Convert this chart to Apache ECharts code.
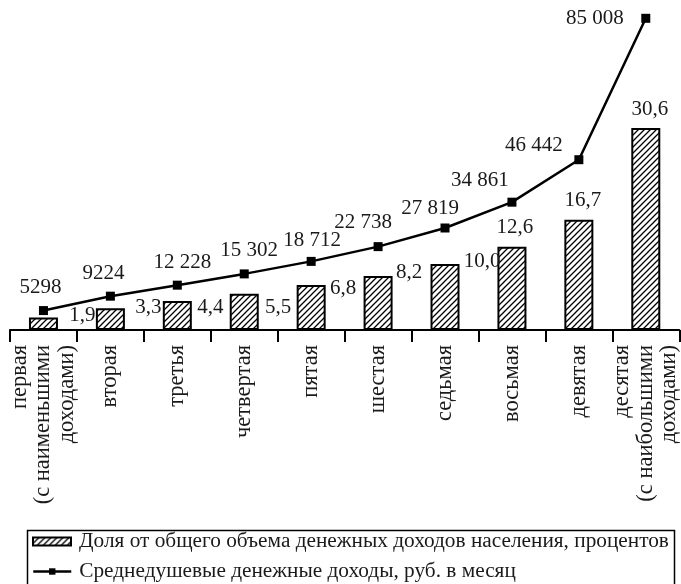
<!DOCTYPE html>
<html>
<head>
<meta charset="utf-8">
<script src="https://cdn.jsdelivr.net/npm/echarts@6/dist/echarts.min.js"></script>
<style>html,body{margin:0;padding:0;background:#fff;}#c{width:681px;height:584px;}</style>
</head>
<body>
<div id="c"></div>
<script>
const categories = ['первая\n(с наименьшими\nдоходами)', 'вторая', 'третья', 'четвертая', 'пятая', 'шестая', 'седьмая', 'восьмая', 'девятая', 'десятая\n(с наибольшими\nдоходами)'];
const shares = [1.9, 3.3, 4.4, 5.5, 6.8, 8.2, 10.0, 12.6, 16.7, 30.6];
const incomes = [5298, 9224, 12228, 15302, 18712, 22738, 27819, 34861, 46442, 85008];
const barName = 'Доля от общего объема денежных доходов населения, процентов';
const lineName = 'Среднедушевые денежные доходы, руб. в месяц';

// label placement tweaks (style only)
const barLabelOffsets = [[39,-2],[38,-1],[33,7],[34,14],[32,3],[31,-3],[37,-3],[3,-19],[4,-19],[4,-19]];
const lineLabelOffsets = [[-3,-23],[-7,-23],[5,-23],[5,-23],[1,-21],[-15,-24],[-15,-20],[-32,-22],[-45,-14],[-51,0]];

function makeHatch() {
  const s = 6, c = document.createElement('canvas');
  c.width = s; c.height = s;
  const g = c.getContext('2d');
  g.fillStyle = '#fff'; g.fillRect(0, 0, s, s);
  g.strokeStyle = '#000'; g.lineWidth = 1.3;
  g.beginPath();
  g.moveTo(0, s); g.lineTo(s, 0);
  g.moveTo(-1, 1); g.lineTo(1, -1);
  g.moveTo(s - 1, s + 1); g.lineTo(s + 1, s - 1);
  g.stroke();
  return c;
}
const hatch = { image: makeHatch(), repeat: 'repeat' };

function fmtShare(v) { return v.toFixed(1).replace('.', ','); }
function fmtIncome(v) {
  if (v < 10000) return String(v);
  return String(v).replace(/\B(?=(\d{3})+(?!\d))/g, ' ');
}

const FONT = 'Liberation Serif';
const TXT = '#1a1a1a';
const legendCommon = {
  orient: 'horizontal', left: 32, padding: 0,
  itemWidth: 38, itemHeight: 8,
  lineStyle: { color: '#000', width: 2.5 },
  textStyle: { fontFamily: FONT, fontSize: 21.3, color: TXT, padding: [0, 0, 0, 3] }
};

const chart = echarts.init(document.getElementById('c'), null, { renderer: 'canvas' });
chart.setOption({
  backgroundColor: '#fff',
  animation: false,
  textStyle: { fontFamily: FONT, color: TXT },
  grid: { left: 10, width: 670, top: 0, bottom: 254, containLabel: false },
  legend: [
    Object.assign({}, legendCommon, { top: 531, data: [{ name: barName, icon: 'rect' }] }),
    Object.assign({}, legendCommon, { top: 561, data: [{ name: lineName }] })
  ],
  graphic: [{
    type: 'rect', left: 25, top: 528, z: -1, silent: true,
    shape: { width: 647, height: 80 },
    style: { fill: 'none', stroke: '#000', lineWidth: 1.5 }
  }],
  xAxis: {
    type: 'category', data: categories, boundaryGap: true,
    axisLine: { lineStyle: { color: '#000', width: 2 } },
    axisTick: { show: true, interval: 0, length: 12, lineStyle: { color: '#000', width: 2 } },
    axisLabel: { interval: 0, rotate: 90, margin: 15, fontFamily: FONT, fontSize: 22.5, lineHeight: 23.5, color: TXT }
  },
  yAxis: [
    { type: 'value', min: 0, max: 50, show: false, splitLine: { show: false } },
    { type: 'value', min: 0, max: 90000, show: false, splitLine: { show: false } }
  ],
  series: [
    {
      name: barName, type: 'bar', yAxisIndex: 0, barWidth: 29,
      itemStyle: { color: hatch, borderColor: '#000', borderWidth: 2 },
      data: shares.map((v, i) => ({
        value: v,
        label: {
          show: true, position: ['50%', 0], align: 'center', verticalAlign: 'middle',
          offset: barLabelOffsets[i], formatter: () => fmtShare(v),
          fontFamily: FONT, fontSize: 21, color: TXT
        }
      }))
    },
    {
      name: lineName, type: 'line', yAxisIndex: 1, z: 5,
      symbol: 'rect', symbolSize: 9,
      lineStyle: { color: '#000', width: 2.5 },
      itemStyle: { color: '#000' },
      data: incomes.map((v, i) => ({
        value: v,
        label: {
          show: true, position: 'inside', align: 'center', verticalAlign: 'middle',
          offset: lineLabelOffsets[i], formatter: () => fmtIncome(v),
          fontFamily: FONT, fontSize: 21, color: TXT
        }
      }))
    }
  ]
});
</script>
</body>
</html>
